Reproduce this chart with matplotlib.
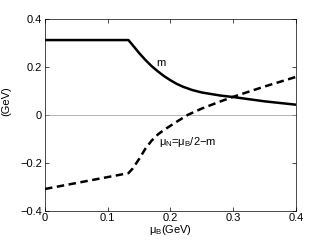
import matplotlib
matplotlib.use('Agg')
import matplotlib.pyplot as plt

plt.rcParams['font.family'] = ['Liberation Sans', 'DejaVu Sans']
plt.rcParams['mathtext.fontset'] = 'custom'
plt.rcParams['mathtext.rm'] = 'Liberation Sans'
plt.rcParams['mathtext.it'] = 'Liberation Sans'
plt.rcParams['mathtext.default'] = 'regular'

# values
mu_b = [0.0, 0.133, 0.14, 0.15, 0.16, 0.17, 0.18, 0.19, 0.2, 0.21, 0.22,
        0.235, 0.25, 0.28, 0.3, 0.35, 0.4]
m    = [0.312, 0.312, 0.290, 0.258, 0.229, 0.203, 0.181, 0.161, 0.144, 0.129, 0.117,
        0.103, 0.093, 0.080, 0.074, 0.056, 0.042]

mu_b_n = [0.0, 0.133, 0.14, 0.15, 0.16, 0.17, 0.18, 0.19, 0.2, 0.21, 0.228,
          0.25, 0.28, 0.3, 0.35, 0.4]
mu_n   = [-0.31, -0.244, -0.224, -0.185, -0.142, -0.108, -0.082, -0.063, -0.046, -0.029, 0.0,
          0.026, 0.056, 0.075, 0.118, 0.158]

xticks = [0, 0.1, 0.2, 0.3, 0.4]
yticks = [-0.4, -0.2, 0, 0.2, 0.4]
xticklabels = ['0', '0.1', '0.2', '0.3', '0.4']
yticklabels = ['\u22120.4', '\u22120.2', '0', '0.2', '0.4']

fig = plt.figure(figsize=(3.27, 2.46), dpi=100)
ax = fig.add_axes([0.1376, 0.1443, 0.7674, 0.7785])

ax.axhline(0, color='#999999', lw=0.5)
ax.plot(mu_b, m, color='black', lw=1.8, solid_joinstyle='round')
ax.plot(mu_b_n, mu_n, color='black', lw=1.8, ls=(0, (3.0, 1.8)))

ax.text(0.178, 0.216, 'm', fontsize=8, va='center')
ax.text(0.181, -0.115, r'$\mu_N$=$\mu_B$/2$-$m', fontsize=8, va='center')

ax.set_xlim(0, 0.4)
ax.set_ylim(-0.4, 0.4)
ax.set_xticks(xticks)
ax.set_yticks(yticks)
ax.set_xticklabels(xticklabels)
ax.set_yticklabels(yticklabels)
ax.tick_params(direction='in', top=True, right=True, labelsize=8,
               length=3, width=0.5, pad=2)
for s in ax.spines.values():
    s.set_linewidth(0.5)

ax.set_xlabel(r'$\mu_B$(GeV)', fontsize=8, labelpad=0)
ax.set_ylabel('(GeV)', fontsize=8, labelpad=3)
ax.yaxis.set_label_coords(-0.135, 0.57)

fig.savefig('out.png', dpi=100)
